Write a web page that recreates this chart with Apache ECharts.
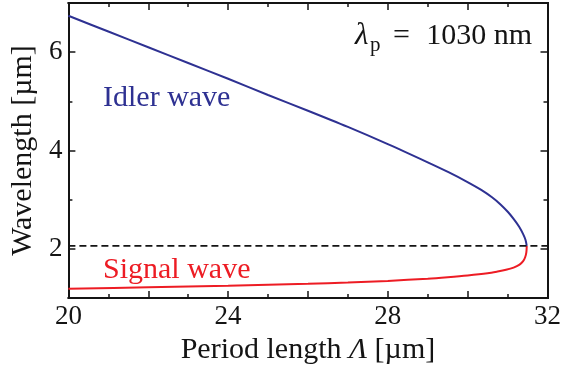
<!DOCTYPE html>
<html>
<head>
<meta charset="utf-8">
<script src="https://cdn.jsdelivr.net/npm/echarts@6/dist/echarts.min.js"></script>
<style>
  html, body { margin: 0; padding: 0; background: #ffffff; }
  #chart { width: 564px; height: 370px; }
</style>
</head>
<body>
<div id="chart"></div>
<script>
// QPM tuning curve: poling period vs. signal / idler wavelength (pump 1030 nm)
const idlerPeriod     = [20.0, 21.0, 22.0, 23.0, 24.0, 25.0, 26.0, 27.0, 28.0, 29.0, 29.52, 30.02, 30.34, 30.61, 30.83, 31.01, 31.16, 31.29, 31.39, 31.45, 31.48];
const idlerWavelength = [6.74, 6.42, 6.10, 5.78, 5.46, 5.13, 4.81, 4.48, 4.13, 3.76, 3.56, 3.35, 3.20, 3.05, 2.90, 2.75, 2.60, 2.45, 2.30, 2.18, 2.06];

const signalPeriod     = [20.0, 22.0, 24.0, 26.0, 27.0, 28.0, 29.0, 29.5, 30.0, 30.5, 30.75, 30.96, 31.15, 31.30, 31.39, 31.44, 31.47, 31.48];
const signalWavelength = [1.19, 1.22, 1.25, 1.29, 1.315, 1.35, 1.395, 1.425, 1.46, 1.505, 1.54, 1.575, 1.62, 1.68, 1.75, 1.83, 1.93, 2.06];

const degenerateWavelength = 2.06;   // 2 x pump wavelength
const periodRange = [20, 32];

const xLabelValues = [20, 24, 28, 32];
const yMajorTicks  = [2, 4, 6];
const yMinorTicks  = [3, 5];

const serif = "'Liberation Serif', 'Times New Roman', serif";
const black = '#141414';
const idlerColor  = '#2e3192';
const signalColor = '#ed1c24';

const zip = (xs, ys) => xs.map((x, i) => [x, ys[i]]);

const frameLine = { show: true, onZero: false, lineStyle: { color: black, width: 2, cap: 'square' } };
const tickStyle = { color: black, width: 1.5 };

function xAxisDef(position, withLabels) {
  return {
    type: 'value', position: position,
    min: periodRange[0], max: periodRange[1], interval: 2,
    axisLine: frameLine,
    axisTick: { show: true, inside: true, length: 7, lineStyle: tickStyle },
    minorTick: { show: true, splitNumber: 2, length: 4, lineStyle: tickStyle },
    splitLine: { show: false }, minorSplitLine: { show: false },
    axisLabel: withLabels ? {
      show: true, margin: 5, color: black, fontFamily: serif, fontSize: 27,
      formatter: v => (xLabelValues.includes(v) ? String(v) : '')
    } : { show: false },
    name: withLabels ? '{t|Period length }{i|Λ}{t| [µm]}' : '',
    nameLocation: 'middle', nameGap: 28,
    nameTextStyle: {
      rich: {
        t: { fontFamily: serif, fontSize: 30, color: black },
        i: { fontFamily: serif, fontSize: 30, fontStyle: 'italic', color: black }
      }
    }
  };
}

function yAxisDef(position, ticks, tickLen, opts) {
  return Object.assign({
    type: 'value', position: position, min: 1, max: 7,
    axisLine: frameLine,
    axisTick: { show: true, inside: true, length: tickLen, customValues: ticks, lineStyle: tickStyle },
    axisLabel: { show: false },
    splitLine: { show: false }
  }, opts || {});
}

const chart = echarts.init(document.getElementById('chart'), null, { renderer: 'canvas' });

chart.setOption({
  animation: false,
  backgroundColor: '#ffffff',
  grid: { left: 68, right: 15, top: 3, bottom: 70, containLabel: false },
  xAxis: [ xAxisDef('bottom', true), xAxisDef('top', false) ],
  yAxis: [
    yAxisDef('left', yMajorTicks, 7, {
      axisLabel: {
        show: true, customValues: yMajorTicks, margin: 6,
        color: black, fontFamily: serif, fontSize: 27
      },
      name: 'Wavelength [µm]', nameLocation: 'middle', nameGap: 30, nameRotate: 90,
      nameTextStyle: { fontFamily: serif, fontSize: 30, color: black }
    }),
    yAxisDef('left', yMinorTicks, 4),
    yAxisDef('right', yMajorTicks, 7),
    yAxisDef('right', yMinorTicks, 4)
  ],
  series: [
    {
      name: 'Idler wave', type: 'line', xAxisIndex: 0, yAxisIndex: 0,
      data: zip(idlerPeriod, idlerWavelength),
      showSymbol: false, smooth: 0.3, clip: false,
      lineStyle: { color: idlerColor, width: 2 }, z: 3
    },
    {
      name: 'Signal wave', type: 'line', xAxisIndex: 0, yAxisIndex: 0,
      data: zip(signalPeriod, signalWavelength),
      showSymbol: false, smooth: 0.3, clip: false,
      lineStyle: { color: signalColor, width: 2 }, z: 3
    },
    {
      name: 'degeneracy', type: 'line', xAxisIndex: 0, yAxisIndex: 0,
      data: periodRange.map(p => [p, degenerateWavelength]),
      showSymbol: false,
      lineStyle: { color: black, width: 1.7, type: [7, 4] }, z: 4
    }
  ],
  graphic: [
    { type: 'text', x: 103, y: 98, z: 10,
      style: { text: 'Idler wave', fill: idlerColor, font: '30px ' + serif, verticalAlign: 'middle' } },
    { type: 'text', x: 103, y: 270, z: 10,
      style: { text: 'Signal wave', fill: signalColor, font: '30px ' + serif, verticalAlign: 'middle' } },
    { type: 'text', x: 355, y: 36, z: 10,
      style: { text: 'λ', fill: black, font: 'italic 31px ' + serif, verticalAlign: 'middle' } },
    { type: 'text', x: 370, y: 45, z: 10,
      style: { text: 'p', fill: black, font: '21px ' + serif, verticalAlign: 'middle' } },
    { type: 'text', x: 393, y: 36, z: 10,
      style: { text: '=', fill: black, font: '30px ' + serif, verticalAlign: 'middle' } },
    { type: 'text', x: 532, y: 36, z: 10,
      style: { text: '1030 nm', fill: black, font: '30px ' + serif, align: 'right', verticalAlign: 'middle' } }
  ]
});
</script>
</body>
</html>
